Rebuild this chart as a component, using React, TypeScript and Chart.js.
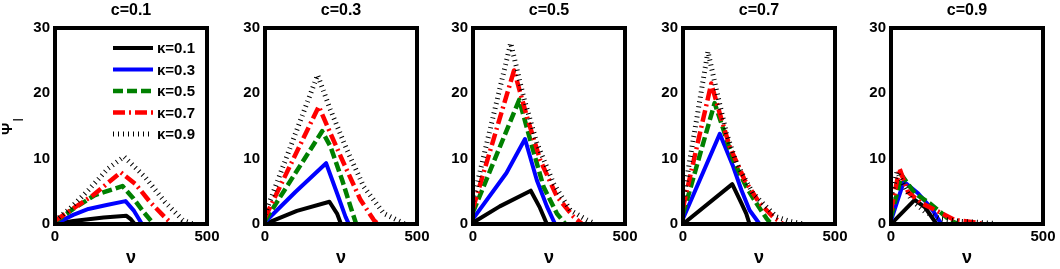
import React, { useEffect, useRef } from 'react';
import { Chart, registerables } from 'chart.js';

Chart.register(...registerables);

// ---------- data ----------
const panelTitles = ['c=0.1', 'c=0.3', 'c=0.5', 'c=0.7', 'c=0.9'];
const kappaLabels = ['κ=0.1', 'κ=0.3', 'κ=0.5', 'κ=0.7', 'κ=0.9'];
const xTickValues = [0, 500];
const yTickValues = [0, 10, 20, 30];
const xLabel = 'ν';
const yLabelMain = 'Ψ';
const yLabelSub = 'I';

// [nu, Psi_I] pairs
const c1k1 = [[0, 0], [60, 0.45], [160, 1.0], [235, 1.25], [250, 0.7], [262, 0]];
const c1k3 = [[0, 0], [60, 1.4], [110, 2.3], [170, 2.9], [232, 3.5], [260, 2.0], [286, 0]];
const c1k5 = [[0, 0.3], [60, 2.3], [130, 4.4], [222, 5.8], [258, 3.9], [290, 1.9], [325, 0]];
const c1k7 = [[0, 0.5], [125, 4.4], [216, 7.9], [265, 6.1], [312, 3.4], [360, 1.1], [385, 0]];
const c1k9 = [[0, 0.5], [50, 2.4], [110, 5.2], [175, 8.5], [227, 10.3], [296, 7.2], [361, 3.4], [420, 0.6], [455, 0]];

const c3k1 = [[0, 0], [105, 2.0], [212, 3.4], [237, 1.6], [250, 0]];
const c3k3 = [[0, 0.3], [100, 4.9], [201, 9.3], [237, 4.7], [265, 1.1], [276, 0]];
const c3k5 = [[0, 0.5], [188, 14.2], [215, 11.9], [254, 6.7], [281, 2.7], [300, 0]];
const c3k7 = [[0, 1.0], [177, 18], [215, 13.9], [259, 9.3], [314, 3.7], [358, 0.6], [372, 0]];
const c3k9 = [[0, 1.5], [173, 22.8], [215, 17.5], [270, 11.3], [325, 5.7], [391, 1.6], [447, 0.3], [460, 0]];

const c5k1 = [[0, 0.2], [88, 2.7], [190, 5.1], [220, 2.5], [243, 0]];
const c5k3 = [[0, 0.8], [110, 7.8], [171, 13], [210, 6.7], [243, 2.7], [270, 0]];
const c5k5 = [[0, 1.8], [152, 19], [188, 12.9], [232, 5.7], [276, 1.6], [304, 0]];
const c5k7 = [[0, 2.4], [135, 23.5], [177, 16.5], [221, 9.8], [276, 4.2], [331, 1.1], [359, 0]];
const c5k9 = [[0, 3.5], [124, 27.7], [166, 19.5], [210, 12.4], [265, 6.2], [320, 2.1], [375, 0.6], [403, 0]];

const c7k1 = [[0, 0], [162, 6.1], [192, 3.2], [208, 1.6], [219, 0]];
const c7k3 = [[0, 0.8], [121, 13.8], [165, 8.8], [192, 5.2], [219, 2.1], [252, 0]];
const c7k5 = [[0, 1.5], [104, 18.5], [132, 14.6], [165, 9.8], [208, 5.7], [241, 3.2], [274, 0.9], [290, 0]];
const c7k7 = [[0, 2.5], [93, 21.5], [121, 16.9], [154, 11.8], [203, 6.7], [252, 3.2], [296, 1.1], [329, 0]];
const c7k9 = [[0, 3.5], [82, 26.4], [110, 20.5], [143, 13.9], [176, 9.3], [230, 4.7], [307, 1.1], [351, 0.4], [400, 0]];

const c9k1 = [[0, 0], [78, 3.7], [111, 2.6], [150, 0]];
const c9k3 = [[0, 0.5], [42, 6.5], [89, 4.7], [133, 2.4], [166, 0]];
const c9k5 = [[0, 1.0], [35, 7.5], [78, 4.7], [127, 3.2], [193, 0.6], [220, 0]];
const c9k7 = [[0, 2.0], [28, 8.5], [56, 4.9], [100, 3.2], [155, 1.9], [210, 0.6], [287, 0.2], [300, 0]];
const c9k9 = [[0, 4.0], [20, 8.0], [67, 3.7], [111, 1.9], [160, 0.8], [230, 0.4], [341, 0.1]];

const panelSeries = [
  [c1k1, c1k3, c1k5, c1k7, c1k9],
  [c3k1, c3k3, c3k5, c3k7, c3k9],
  [c5k1, c5k3, c5k5, c5k7, c5k9],
  [c7k1, c7k3, c7k5, c7k7, c7k9],
  [c9k1, c9k3, c9k5, c9k7, c9k9],
];

// ---------- styles / layout ----------
const seriesStyles = [
  { color: '#000000', width: 4, dash: [] as number[] },
  { color: '#0000ff', width: 4, dash: [] as number[] },
  { color: '#008000', width: 4.5, dash: [10, 4] },
  { color: '#ff0000', width: 4.5, dash: [12, 4, 2, 4] },
  { color: '#000000', width: 5, dash: [1, 4] },
];

const FONT = "'Liberation Sans', Arial, sans-serif";
const PLOT_LEFTS = [55, 265, 473, 683, 891];
const Y_AXIS_W = 55;
const PLOT_W = 152;
const PAD_R = 25;
const CANVAS_W = Y_AXIS_W + PLOT_W + PAD_R;
const CANVAS_H = 269;
const X_AXIS_H = 45;

const framePlugin = {
  id: 'frameBox',
  afterDatasetsDraw(chart: any) {
    const { ctx, chartArea } = chart;
    ctx.save();
    ctx.strokeStyle = '#000';
    ctx.lineWidth = 4;
    ctx.setLineDash([]);
    ctx.strokeRect(chartArea.left, chartArea.top, chartArea.right - chartArea.left, chartArea.bottom - chartArea.top);
    ctx.restore();
  },
};

const legendPlugin = {
  id: 'insideLegend',
  afterDraw(chart: any) {
    const { ctx, chartArea } = chart;
    ctx.save();
    chart.data.datasets.forEach((ds: any, i: number) => {
      const y = chartArea.top + 20 + 21.5 * i;
      const x0 = chartArea.left + 58;
      const x1 = chartArea.left + 98;
      ctx.strokeStyle = ds.borderColor;
      ctx.lineWidth = ds.borderWidth;
      ctx.lineCap = 'butt';
      ctx.setLineDash(ds.borderDash || []);
      ctx.beginPath();
      ctx.moveTo(x0, y);
      ctx.lineTo(x1, y);
      ctx.stroke();
      ctx.setLineDash([]);
      ctx.fillStyle = '#000';
      ctx.font = `bold 15px ${FONT}`;
      ctx.textAlign = 'left';
      ctx.textBaseline = 'middle';
      ctx.fillText(ds.label, chartArea.left + 102, y + 1);
    });
    ctx.restore();
  },
};

const yLabelPlugin = {
  id: 'yLabelSub',
  afterDraw(chart: any) {
    const { ctx } = chart;
    ctx.save();
    ctx.translate(12, 135);
    ctx.rotate(-Math.PI / 2);
    ctx.fillStyle = '#000';
    ctx.textAlign = 'left';
    ctx.textBaseline = 'alphabetic';
    ctx.font = `bold 15px ${FONT}`;
    ctx.fillText(yLabelMain, 0, 0);
    const w = ctx.measureText(yLabelMain).width;
    ctx.font = `14px ${FONT}`;
    ctx.fillText(yLabelSub, w + 1, 11);
    ctx.restore();
  },
};

function makeConfig(p: number): any {
  const datasets = panelSeries[p].map((series, i) => ({
    label: kappaLabels[i],
    data: series.map(([x, y]) => ({ x, y })),
    borderColor: seriesStyles[i].color,
    borderWidth: seriesStyles[i].width,
    borderDash: seriesStyles[i].dash,
    borderJoinStyle: 'round',
    borderCapStyle: 'butt',
    pointRadius: 0,
    tension: 0,
    fill: false,
    order: 4 - i,
  }));
  return {
    type: 'line',
    data: { datasets },
    options: {
      responsive: false,
      maintainAspectRatio: false,
      animation: false,
      events: [],
      layout: { padding: { top: 1, left: 0, right: PAD_R, bottom: 0 } },
      plugins: {
        legend: { display: false },
        tooltip: { enabled: false },
        title: {
          display: true,
          text: panelTitles[p],
          fullSize: false,
          color: '#000',
          font: { family: FONT, size: 16, weight: 'bold', lineHeight: 1.2 },
          padding: { top: 0, bottom: 7.8 },
        },
      },
      scales: {
        x: {
          type: 'linear',
          min: 0,
          max: 500,
          grid: { display: false, drawTicks: false },
          border: { display: false },
          afterBuildTicks: (s: any) => { s.ticks = xTickValues.map((v) => ({ value: v })); },
          afterFit: (s: any) => { s.height = X_AXIS_H; },
          ticks: { color: '#000', padding: 4, maxRotation: 0, font: { family: FONT, size: 15, weight: 'bold' } },
          title: {
            display: true,
            text: xLabel,
            color: '#000',
            font: { family: FONT, size: 18, weight: 'bold', lineHeight: 1.2 },
            padding: { top: 0, bottom: 0 },
          },
        },
        y: {
          type: 'linear',
          min: 0,
          max: 30,
          grid: { display: false, drawTicks: false },
          border: { display: false },
          afterBuildTicks: (s: any) => { s.ticks = yTickValues.map((v) => ({ value: v })); },
          afterFit: (s: any) => { s.width = Y_AXIS_W; },
          ticks: { color: '#000', padding: 5, font: { family: FONT, size: 15, weight: 'bold' } },
        },
      },
    },
    plugins: p === 0 ? [framePlugin, legendPlugin, yLabelPlugin] : [framePlugin],
  };
}

export default function App() {
  const refs = useRef<(HTMLCanvasElement | null)[]>([]);

  useEffect(() => {
    const charts = refs.current.map((cv, p) => (cv ? new Chart(cv, makeConfig(p)) : null));
    return () => {
      charts.forEach((c) => c && c.destroy());
    };
  }, []);

  return (
    <div
      style={{
        position: 'fixed',
        left: 0,
        top: 0,
        width: 1060,
        height: 269,
        overflow: 'hidden',
        background: '#ffffff',
      }}
    >
      {PLOT_LEFTS.map((L, p) => (
        <canvas
          key={p}
          ref={(el) => { refs.current[p] = el; }}
          width={CANVAS_W}
          height={CANVAS_H}
          style={{ position: 'absolute', left: L - Y_AXIS_W, top: 0, width: CANVAS_W, height: CANVAS_H }}
        />
      ))}
    </div>
  );
}
